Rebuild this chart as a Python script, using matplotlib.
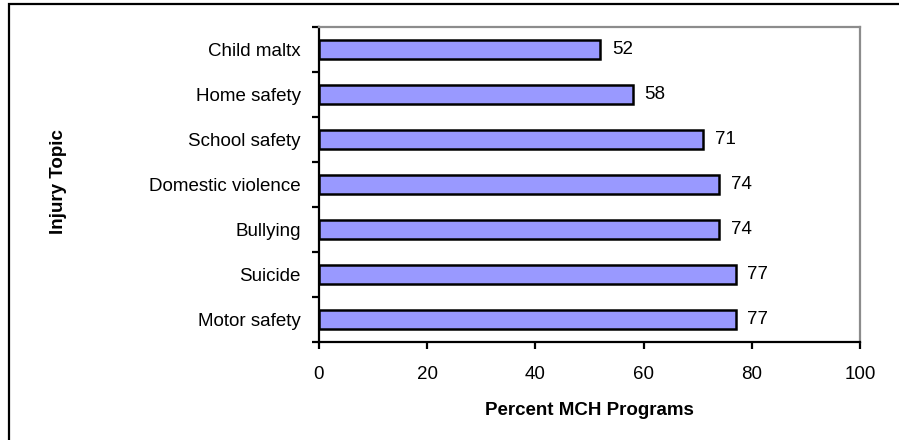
import matplotlib
matplotlib.use('Agg')
import matplotlib.pyplot as plt
from matplotlib.patches import Rectangle
import numpy as np

plt.rcParams['font.family'] = ['Liberation Sans', 'DejaVu Sans']

topics = ['Motor safety', 'Suicide', 'Bullying', 'Domestic violence',
          'School safety', 'Home safety', 'Child maltx']
percent = [77, 77, 74, 74, 71, 58, 52]
xticks = [0, 20, 40, 60, 80, 100]

FS = 13.5

fig = plt.figure(figsize=(8.99, 4.40), dpi=100)
ax = fig.add_axes([319 / 899, 1 - 342 / 440, 541 / 899, 315 / 440])

# outer chart border (runs off the right and bottom edges)
fig.patches.append(Rectangle((9 / 899, -0.1), 1.2, 1 - 4 / 440 + 0.1,
                             transform=fig.transFigure, fill=False,
                             edgecolor='black', linewidth=1.6, zorder=0))

y = np.arange(len(topics))
ax.barh(y, percent, height=0.42, color='#9999FF', edgecolor='black',
        linewidth=1.8, zorder=3)

for yi, v in zip(y, percent):
    ax.text(v + 2.2, yi, str(v), va='center', ha='left', fontsize=FS)

ax.set_xlim(0, 100)
ax.set_ylim(-0.5, len(topics) - 0.5)
ax.set_xticks(xticks)
ax.set_xticklabels([str(t) for t in xticks], fontsize=FS)

# category labels sit between the boundary ticks
ax.set_yticks(y)
ax.set_yticklabels(topics, fontsize=FS)
ax.tick_params(axis='y', which='major', length=0, pad=13)
ax.set_yticks(np.arange(-0.5, len(topics)), minor=True)
ax.tick_params(axis='y', which='minor', length=5, width=1.6, direction='out')
ax.tick_params(axis='x', length=5, width=1.6, direction='out', pad=12)

for side in ['left', 'bottom']:
    ax.spines[side].set_color('black')
    ax.spines[side].set_linewidth(1.6)
for side in ['top', 'right']:
    ax.spines[side].set_color('#8c8c8c')
    ax.spines[side].set_linewidth(1.6)

ax.set_xlabel('Percent MCH Programs', fontsize=FS, fontweight='bold')
ax.xaxis.set_label_coords(0.5, -0.19)
ax.set_ylabel('Injury Topic', fontsize=FS, fontweight='bold')
ax.yaxis.set_label_coords(-0.466, 0.51)

fig.savefig('out.png', dpi=100)
